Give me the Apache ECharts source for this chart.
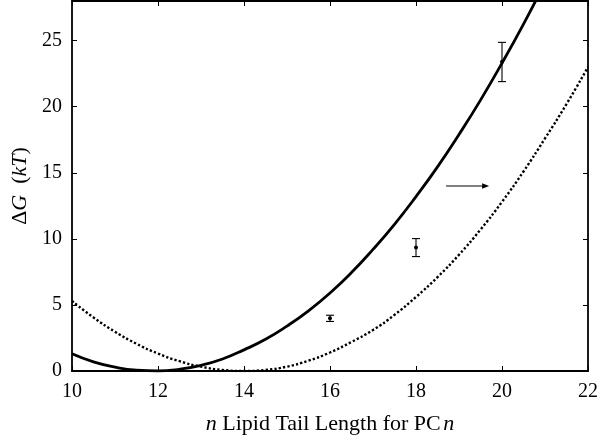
<!DOCTYPE html>
<html>
<head>
<meta charset="utf-8">
<script src="https://cdn.jsdelivr.net/npm/echarts@6/dist/echarts.min.js"></script>
<style>html,body{margin:0;padding:0;background:#fff;}#c{width:601px;height:440px;}</style>
</head>
<body>
<div id="c"></div>
<script>
// ---- data ----
const xs = [10,10.5,11,11.5,12,12.5,13,13.5,14,14.5,15,15.5,16,16.5,17,17.5,18,18.5,19,19.5,20,20.5,21,21.5,22];
const solidVals = [1.3,0.69,0.29,0.06,0.0,0.13,0.43,0.91,1.6,2.4,3.4,4.55,5.9,7.45,9.2,11.1,13.2,15.45,17.9,20.5,23.3,26.25,29.4,32.7,36.1];
const dottedVals = [5.3,4.05,2.97,2.06,1.32,0.74,0.33,0.08,0.0,0.08,0.33,0.78,1.4,2.2,3.1,4.25,5.6,7.1,8.8,10.7,12.8,15.1,17.6,20.2,23.0];
const errX = [16,18,20];
const errY = [4.0,9.35,23.4];
const errLo = [3.75,8.66,21.9];
const errHi = [4.22,10.02,24.87];
const arrowFrom = [18.7,14.0];
const arrowTo = [19.7,14.0];
const xTickVals = [10,12,14,16,18,20,22];
const yTickVals = [0,5,10,15,20,25];

const solidData = xs.map((x,i)=>[x, solidVals[i]]);
const dottedData = xs.map((x,i)=>[x, dottedVals[i]]);
const errData = errX.map((x,i)=>[x, errY[i], errLo[i], errHi[i]]);

const FONT = '"Liberation Serif","Times New Roman",serif';
const axisCommon = {
  type: 'value',
  axisLine: {show: true, onZero: false, lineStyle: {color: '#000', width: 1.8}},
  axisTick: {show: true, inside: true, length: 5, lineStyle: {color: '#000', width: 1}},
  splitLine: {show: false}
};

const chart = echarts.init(document.getElementById('c'), null, {renderer: 'canvas'});
chart.setOption({
  animation: false,
  backgroundColor: '#fff',
  grid: {left: 72, right: 9, top: 1, bottom: 66, containLabel: false},
  xAxis: [
    Object.assign({}, axisCommon, {
      position: 'bottom', min: 10, max: 22, interval: 2,
      axisLabel: {show: true, color: '#000', fontFamily: FONT, fontSize: 20, margin: 11},
      name: '{i|n} Lipid Tail Length for PC{s| }{i|n}',
      nameLocation: 'middle', nameGap: 42,
      nameTextStyle: {color: '#000', fontFamily: FONT, fontSize: 22,
        rich: {i: {fontStyle: 'italic', fontFamily: FONT, fontSize: 22, color: '#000'},
               s: {fontFamily: FONT, fontSize: 10}}}
    }),
    Object.assign({}, axisCommon, {
      position: 'top', min: 10, max: 22, interval: 2,
      axisLabel: {show: false}
    })
  ],
  yAxis: [
    Object.assign({}, axisCommon, {
      position: 'left', min: 0, max: 28, interval: 5,
      axisLabel: {show: true, color: '#000', fontFamily: FONT, fontSize: 20, margin: 10, showMaxLabel: false},
      name: 'Δ{i|G}  ({i|kT})',
      nameLocation: 'middle', nameGap: 34, nameRotate: 90,
      nameTextStyle: {color: '#000', fontFamily: FONT, fontSize: 22,
        rich: {i: {fontStyle: 'italic', fontFamily: FONT, fontSize: 22, color: '#000'}}}
    }),
    Object.assign({}, axisCommon, {
      position: 'right', min: 0, max: 28, interval: 5,
      axisLabel: {show: false}
    })
  ],
  series: [
    {
      type: 'line', data: solidData, smooth: true, showSymbol: false, clip: true,
      lineStyle: {color: '#000', width: 2.8}, z: 3
    },
    {
      type: 'line', data: dottedData, smooth: true, showSymbol: false, clip: true,
      lineStyle: {color: '#000', width: 2.4, type: [2.3, 2.1]}, z: 3
    },
    {
      type: 'custom', data: errData, z: 5,
      renderItem: function(params, api){
        const x = api.value(0);
        const c = api.coord([x, api.value(1)]);
        const lo = api.coord([x, api.value(2)]);
        const hi = api.coord([x, api.value(3)]);
        const w = 4;
        const st = {stroke: '#000', lineWidth: 1.1};
        return {type: 'group', children: [
          {type: 'line', shape: {x1: c[0], y1: lo[1], x2: c[0], y2: hi[1]}, style: st},
          {type: 'line', shape: {x1: c[0]-w, y1: lo[1], x2: c[0]+w, y2: lo[1]}, style: st},
          {type: 'line', shape: {x1: c[0]-w, y1: hi[1], x2: c[0]+w, y2: hi[1]}, style: st},
          {type: 'circle', shape: {cx: c[0], cy: c[1], r: 2}, style: {fill: '#000'}}
        ]};
      }
    },
    {
      type: 'custom', data: [[arrowFrom[0], arrowFrom[1], arrowTo[0], arrowTo[1]]], z: 5,
      renderItem: function(params, api){
        const a = api.coord([api.value(0), api.value(1)]);
        const b = api.coord([api.value(2), api.value(3)]);
        const L = 7, H = 2.8;
        return {type: 'group', children: [
          {type: 'line', shape: {x1: a[0], y1: a[1], x2: b[0]-L+1, y2: b[1]}, style: {stroke: '#000', lineWidth: 1}},
          {type: 'polygon', shape: {points: [[b[0], b[1]], [b[0]-L, b[1]-H], [b[0]-L, b[1]+H]]}, style: {fill: '#000'}}
        ]};
      }
    }
  ]
});
</script>
</body>
</html>
